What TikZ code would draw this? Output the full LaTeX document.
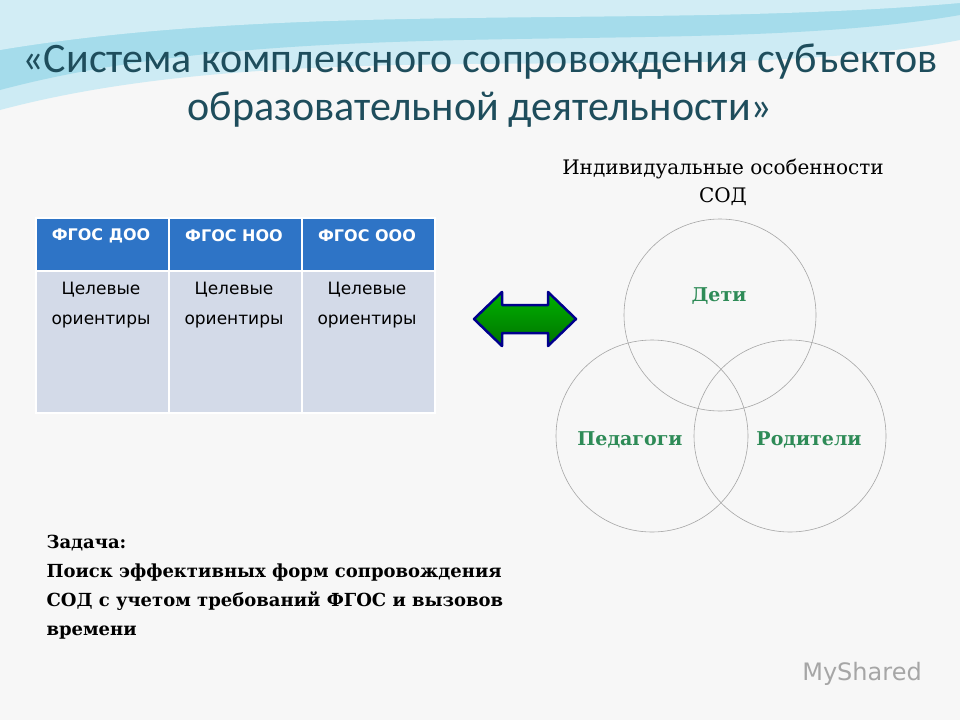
\documentclass[tikz,border=0pt]{standalone}
\usepackage{fontspec}
\setmainfont{DejaVu Serif}
\newfontfamily\titlefont{Carlito}
\newfontfamily\cellfont{DejaVu Sans}
\definecolor{titlec}{HTML}{1E4D5C}
\definecolor{headb}{HTML}{2E74C6}
\definecolor{cellb}{HTML}{D3DAE8}
\definecolor{greent}{HTML}{2E8B57}
\definecolor{wave}{HTML}{8FD3E6}
\tikzset{
 hdr/.style={fill=headb,draw=white,line width=1.5pt,minimum width=133pt,minimum height=53pt,anchor=north west,inner sep=0pt},
 hdrtxt/.style={text=white,font=\cellfont\bfseries\fontsize{16}{18}\selectfont},
 cell/.style={fill=cellb,draw=white,line width=1.5pt,minimum width=133pt,minimum height=142pt,anchor=north west,inner sep=0pt},
 celltxt/.style={font=\cellfont\fontsize{17}{30}\selectfont,align=center,anchor=north},
 circ/.style={circle,draw=gray!70,line width=0.6pt,minimum size=192pt,inner sep=0pt},
 lbl/.style={text=greent,font=\bfseries\fontsize{19}{21}\selectfont}
}
\begin{document}
\begin{tikzpicture}[x=1pt,y=-1pt]
\useasboundingbox (0,0) rectangle (960,720);
\fill[gray!6] (0,0) rectangle (960,720);
\fill[wave!45] (0,0) -- (960,0) -- (960,40) .. controls (700,90) and (300,30) .. (0,110) -- cycle;
\fill[wave!80] (0,0) -- (960,0) -- (960,15) .. controls (700,60) and (300,10) .. (0,90) -- cycle;
\fill[white!60!wave] (0,0) -- (960,0) -- (960,3) .. controls (650,30) and (300,0) .. (0,50) -- cycle;
\node[text=titlec,font=\titlefont\fontsize{42}{48}\selectfont,align=center] (title) at (480,86) {«Система комплексного сопровождения субъектов\\образовательной деятельности»};
\node[font=\fontsize{20}{28}\selectfont,align=center] (ind) at (723,182) {Индивидуальные особенности\\СОД};
\node[hdr] (h1) at (35,217) {};
\node[hdr] (h2) at (168,217) {};
\node[hdr] (h3) at (301,217) {};
\node[hdrtxt] (ht1) at (101,236) {ФГОС ДОО};
\node[hdrtxt] (ht2) at (234,236) {ФГОС НОО};
\node[hdrtxt] (ht3) at (367,236) {ФГОС ООО};
\node[cell] (c1) at (35,270) {};
\node[cell] (c2) at (168,270) {};
\node[cell] (c3) at (301,270) {};
\node[celltxt] (t1) at (101,279) {Целевые\\ориентиры};
\node[celltxt] (t2) at (234,279) {Целевые\\ориентиры};
\node[celltxt] (t3) at (367,279) {Целевые\\ориентиры};
\shade[top color=green!70!black,bottom color=green!45!black,draw=blue!55!black,line width=2.5pt,line join=round]
 (474,319) -- (502,292) -- (502,305) -- (548,305) -- (548,292) -- (576,319) -- (548,346) -- (548,333) -- (502,333) -- (502,346) -- cycle;
\node[circ] (d) at (720,315) {};
\node[circ] (p) at (652,436) {};
\node[circ] (r) at (790,436) {};
\node[lbl] (dl) at (719,296) {Дети};
\node[lbl] (pl) at (630,440) {Педагоги};
\node[lbl] (rl) at (809,440) {Родители};
\node[anchor=north west,align=left,font=\bfseries\fontsize{18}{29}\selectfont] (task) at (43,532) {Задача:\\Поиск эффективных форм сопровождения\\СОД с учетом требований ФГОС и вызовов\\времени};
\node[text=gray!70,font=\cellfont\fontsize{24}{26}\selectfont] (ms) at (862,674) {MyShared};
\end{tikzpicture}
\end{document}
